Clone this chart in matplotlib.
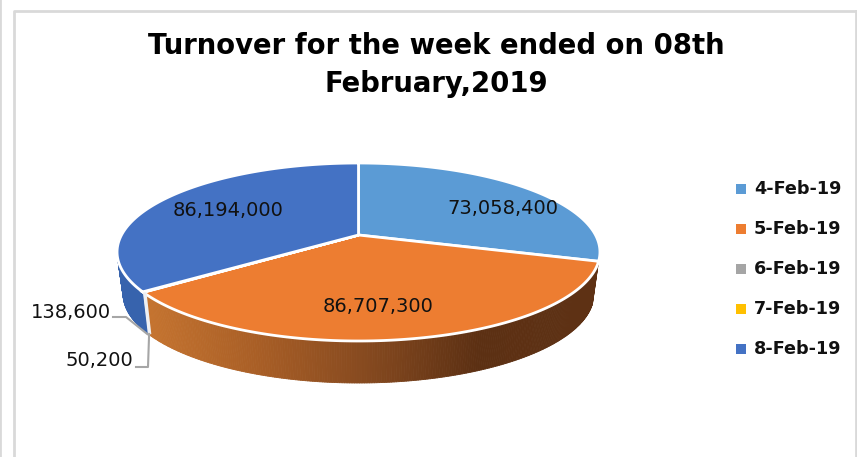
import numpy as np
import matplotlib
matplotlib.use("Agg")
import matplotlib.pyplot as plt
from matplotlib.collections import PolyCollection
from matplotlib.colors import to_rgb

title = "Turnover for the week ended on 08th\nFebruary,2019"
days = ["4-Feb-19", "5-Feb-19", "6-Feb-19", "7-Feb-19", "8-Feb-19"]
turnover = [73058400, 86707300, 138600, 50200, 86194000]
colors = ["#5b9bd5", "#ed7d31", "#a5a5a5", "#ffc000", "#4472c4"]
# side wall shading, left to right
side_colors = [
    ["#3f6e99", "#3f6e99"],
    ["#c4732f", "#a85e26", "#85491f", "#5c3013", "#5e3114"],
    ["#d8d8d8", "#d8d8d8"],
    ["#e8e8e8", "#e8e8e8"],
    ["#3763ad", "#3763ad"],
]

# perspective of the tilted disc, in pixels
cx, cy = 358.5, 235
rx, ry, tilt = 237, 85.75, 0.191
depth = 42
shrink = 0.975  # lower rim sits a little narrower


def project(deg):
    a = np.radians(deg)
    u, v = np.sin(a), np.cos(a)
    d = 1 + tilt * v
    return cx + rx * u / d, cy - ry * v / d


def lower(x, y):
    return cx + (x - cx) * shrink, y + depth


fig = plt.figure(figsize=(8.57, 4.57), dpi=100)
ax = fig.add_axes([0, 0, 1, 1])
ax.set_xlim(0, 857)
ax.set_ylim(457, 0)
ax.axis("off")

# chart frame
ax.plot([14, 14, 857], [457, 11, 11], color="#d9d9d9", lw=2)
ax.plot([856, 856], [11, 457], color="#d9d9d9", lw=2)
ax.plot([0, 0], [0, 457], color="#d9d9d9", lw=2)

ends = np.cumsum(turnover) / np.sum(turnover) * 360
starts = np.r_[0, ends[:-1]]

# visible outer wall
for a0, a1, stops in zip(starts, ends, side_colors):
    lo, hi = max(a0, 107), min(a1, 268)
    if hi <= lo:
        continue
    angles = np.linspace(lo, hi, max(2, int((hi - lo) * 2) + 2))
    x, y = project(angles)
    bx, by = lower(x, y)
    polys = [[(x[i], y[i]), (x[i + 1], y[i + 1]), (bx[i + 1], by[i + 1]), (bx[i], by[i])]
             for i in range(len(x) - 1)]
    rgb = np.array([to_rgb(c) for c in stops])
    # shade on screen x, not on the angle
    t = np.clip((x[:-1] - 150) / 440, 0, 1)
    pos = np.linspace(0, 1, len(stops))
    face = np.column_stack([np.interp(t, pos, rgb[:, k]) for k in range(3)])
    ax.add_collection(PolyCollection(polys, facecolors=face, edgecolors=face, linewidths=0.6))

# white cut down the wall where orange meets the small slices
x, y = project(starts[2])
bx, by = lower(x, y)
ax.plot([x + 1.5, bx + 1], [y, by], color="#eef0f4", lw=2.5, solid_capstyle="butt")

# top face
for a0, a1, c in zip(starts, ends, colors):
    angles = np.linspace(a0, a1, max(2, int(a1 - a0) * 2))
    x, y = project(angles)
    ax.fill(np.r_[cx, x], np.r_[cy, y], facecolor=c, edgecolor="white", lw=2, joinstyle="miter")

# data labels
ax.text(503, 208, f"{turnover[0]:,}", ha="center", va="center", fontsize=14, color="#111111")
ax.text(378, 307, f"{turnover[1]:,}", ha="center", va="center", fontsize=14, color="#111111")
ax.text(228, 211, f"{turnover[4]:,}", ha="center", va="center", fontsize=14, color="#111111")
ax.text(111, 312, f"{turnover[2]:,}", ha="right", va="center", fontsize=14, color="#111111")
ax.text(133, 361, f"{turnover[3]:,}", ha="right", va="center", fontsize=14, color="#111111")

# leader lines for the two tiny slices
x2, y2 = lower(*project((starts[2] + ends[2]) / 2))
x3, y3 = lower(*project((starts[3] + ends[3]) / 2))
ax.plot([113, 126, x2 - 1], [317, 317, y2], color="#a6a6a6", lw=1.5)
ax.plot([136, 148, x3 + 1], [367, 367, y3], color="#a6a6a6", lw=1.5)

ax.text(436, 65, title, ha="center", va="center", fontsize=19.8, fontweight="bold",
        color="black", linespacing=1.43)

# legend
for i, (day, c) in enumerate(zip(days, colors)):
    ly = 189 + i * 40
    ax.scatter([741.5], [ly], marker="s", s=50, color=c, linewidths=0)
    ax.text(754, ly, day, ha="left", va="center", fontsize=12.7, fontweight="bold", color="#111111")

fig.savefig("out.png", dpi=100)
